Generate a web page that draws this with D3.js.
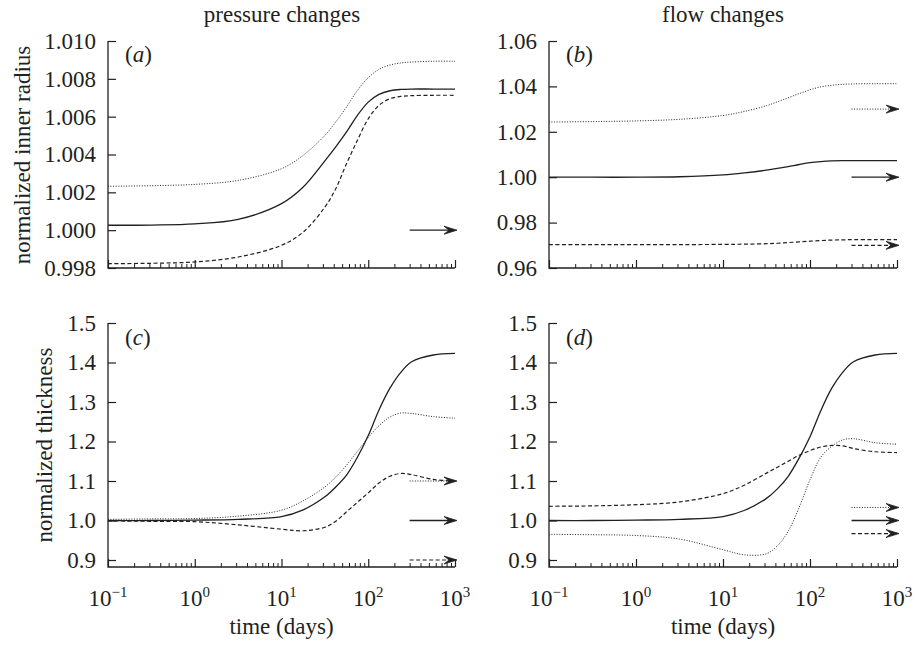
<!DOCTYPE html>
<html>
<head>
<meta charset="utf-8">
<script src="https://cdn.jsdelivr.net/npm/d3@7"></script>
<style>
  body { margin: 0; background: #fff; }
  text { font-family: "Liberation Serif", "Times New Roman", serif; fill: #231f20; }
</style>
</head>
<body>
<svg id="main" width="917" height="647"></svg>
<script>
// time points (days)
const days = [0.1, 0.316, 1, 3.16, 10, 17.8, 31.6, 42.2, 56.2, 75, 100, 133, 178, 237, 316, 562, 1000];

// (a) pressure changes, inner radius
const aSolid  = [1.00026, 1.00027, 1.00033, 1.00057, 1.0014, 1.00228, 1.00366, 1.0044, 1.00519, 1.00607, 1.00677, 1.00718, 1.00737, 1.00744, 1.00746, 1.00746, 1.00746];
const aDotted = [1.00232, 1.00235, 1.00242, 1.00263, 1.00325, 1.00396, 1.00501, 1.00572, 1.00651, 1.00739, 1.00806, 1.0085, 1.00873, 1.00884, 1.00889, 1.00893, 1.00893];
const aDashed = [0.99823, 0.99825, 0.99832, 0.99858, 0.9992, 0.9999, 1.00122, 1.00219, 1.00352, 1.00475, 1.00589, 1.0066, 1.00695, 1.00707, 1.00711, 1.00713, 1.00713];

// (b) flow changes, inner radius
const bSolid  = [1.0000, 1.0000, 1.0000, 1.0002, 1.0010, 1.0019, 1.0031, 1.0039, 1.0047, 1.0056, 1.0064, 1.0069, 1.0072, 1.0073, 1.0073, 1.0073, 1.0073];
const bDotted = [1.0243, 1.0245, 1.0248, 1.0255, 1.0272, 1.0290, 1.0315, 1.0332, 1.0350, 1.0368, 1.0385, 1.0398, 1.0405, 1.0409, 1.0411, 1.0412, 1.0412];
const bDashed = [0.9703, 0.9703, 0.9703, 0.9703, 0.9704, 0.9705, 0.9707, 0.9709, 0.9712, 0.9715, 0.9718, 0.9721, 0.9723, 0.9724, 0.9725, 0.9725, 0.9725];

// (c) pressure changes, thickness
const cSolid  = [1.000, 1.000, 1.001, 1.003, 1.010, 1.027, 1.060, 1.085, 1.115, 1.160, 1.215, 1.280, 1.335, 1.375, 1.402, 1.419, 1.423];
const cDotted = [1.003, 1.004, 1.005, 1.011, 1.026, 1.050, 1.085, 1.110, 1.140, 1.175, 1.210, 1.240, 1.262, 1.272, 1.271, 1.263, 1.259];
const cDashed = [0.999, 0.998, 0.997, 0.989, 0.978, 0.974, 0.983, 0.998, 1.022, 1.046, 1.070, 1.095, 1.112, 1.119, 1.116, 1.104, 1.100];

// (d) flow changes, thickness
const dSolid  = [1.000, 1.000, 1.001, 1.003, 1.010, 1.026, 1.056, 1.080, 1.112, 1.158, 1.212, 1.278, 1.335, 1.375, 1.402, 1.419, 1.423];
const dDotted = [0.965, 0.964, 0.962, 0.953, 0.926, 0.913, 0.916, 0.936, 0.973, 1.033, 1.103, 1.160, 1.188, 1.204, 1.207, 1.197, 1.193];
const dDashed = [1.036, 1.037, 1.040, 1.047, 1.068, 1.090, 1.120, 1.135, 1.150, 1.165, 1.177, 1.186, 1.190, 1.189, 1.182, 1.174, 1.172];

// target arrows (level, style)
const aArrows = [{ v: 1.0, s: "solid" }];
const bArrows = [{ v: 1.03, s: "dotted" }, { v: 1.0, s: "solid" }, { v: 0.97, s: "dashed" }];
const cArrows = [{ v: 1.1, s: "dotted" }, { v: 1.0, s: "solid" }, { v: 0.9, s: "dashed" }];
const dArrows = [{ v: 1.033, s: "dotted" }, { v: 1.0, s: "solid" }, { v: 0.967, s: "dashed" }];

// ticks
const radiusTicksA = [0.998, 1.000, 1.002, 1.004, 1.006, 1.008, 1.010];
const radiusTicksB = [0.96, 0.98, 1.00, 1.02, 1.04, 1.06];
const thickTicks = [0.9, 1.0, 1.1, 1.2, 1.3, 1.4, 1.5];
const decades = [0.1, 1, 10, 100, 1000];
const decadeExp = ["\u22121", "0", "1", "2", "3"];
const columnTitles = ["pressure changes", "flow changes"];
const rowLabels = ["normalized inner radius", "normalized thickness"];

const styles = {
  solid:  { dash: null, w: 1.3 },
  dotted: { dash: "1,1.6", w: 1.0 },
  dashed: { dash: "4,2.5", w: 1.2 }
};

const svg = d3.select("#main");
const FS = 23;

const panels = [
  { id: "a", left: 108, right: 455, top: 41, base: 268, dom: [0.998, 1.010], ticks: radiusTicksA, fmt: d3.format(".3f"),
    series: [[aSolid, "solid"], [aDotted, "dotted"], [aDashed, "dashed"]], arrows: aArrows, labelY: 62 },
  { id: "b", left: 549, right: 897, top: 41, base: 268, dom: [0.96, 1.06], ticks: radiusTicksB, fmt: d3.format(".2f"),
    series: [[bSolid, "solid"], [bDotted, "dotted"], [bDashed, "dashed"]], arrows: bArrows, labelY: 62 },
  { id: "c", left: 108, right: 455, top: 323, base: 560, axisY: 567, dom: [0.9, 1.5], ticks: thickTicks, fmt: d3.format(".1f"),
    series: [[cSolid, "solid"], [cDotted, "dotted"], [cDashed, "dashed"]], arrows: cArrows, labelY: 345, xLabels: true },
  { id: "d", left: 549, right: 897, top: 323, base: 560, axisY: 567, dom: [0.9, 1.5], ticks: thickTicks, fmt: d3.format(".1f"),
    series: [[dSolid, "solid"], [dDotted, "dotted"], [dDashed, "dashed"]], arrows: dArrows, labelY: 345, xLabels: true }
];

const minorTicks = [];
decades.slice(0, -1).forEach(d => { for (let k = 2; k < 10; k++) minorTicks.push(d * k); });

panels.forEach(p => {
  const axisY = p.axisY || p.base;
  const x = d3.scaleLog().domain([0.1, 1000]).range([p.left, p.right]);
  const y = d3.scaleLinear().domain(p.dom).range([p.base, p.top]);
  const g = svg.append("g");

  // y axis (ticks inward)
  g.append("g")
    .attr("transform", `translate(${p.left},0)`)
    .call(d3.axisLeft(y).tickValues(p.ticks).tickFormat(p.fmt).tickSize(-8).tickPadding(12))
    .call(a => a.select(".domain").remove())
    .call(a => a.selectAll(".tick line").attr("stroke", "#231f20").attr("stroke-width", 1.2))
    .call(a => a.selectAll(".tick text").attr("font-size", FS).attr("font-family", "Liberation Serif").attr("fill", "#231f20"));

  // x axis major + minor ticks (inward)
  g.append("g")
    .attr("transform", `translate(0,${axisY})`)
    .call(d3.axisBottom(x).tickValues(decades).tickFormat("").tickSize(-8))
    .call(a => a.select(".domain").remove())
    .call(a => a.selectAll(".tick line").attr("stroke", "#231f20").attr("stroke-width", 1.2));
  g.append("g")
    .attr("transform", `translate(0,${axisY})`)
    .call(d3.axisBottom(x).tickValues(minorTicks).tickFormat("").tickSize(-4))
    .call(a => a.select(".domain").remove())
    .call(a => a.selectAll(".tick line").attr("stroke", "#231f20").attr("stroke-width", 1));

  // axis lines
  g.append("path")
    .attr("d", `M${p.left},${p.top}V${axisY}H${p.right}`)
    .attr("fill", "none").attr("stroke", "#231f20").attr("stroke-width", 1.3);

  if (p.xLabels) {
    decades.forEach((d, i) => {
      const t = g.append("text").attr("x", x(d)).attr("y", 606).attr("text-anchor", "middle").attr("font-size", FS);
      t.append("tspan").text("10");
      t.append("tspan").attr("font-size", 15).attr("dy", -9).text(decadeExp[i]);
    });
    g.append("text").attr("x", (p.left + p.right) / 2).attr("y", 634).attr("text-anchor", "middle")
      .attr("font-size", FS).text("time (days)");
  }

  // panel letter
  const lab = g.append("text").attr("x", p.left + 17).attr("y", p.labelY).attr("font-size", FS);
  lab.append("tspan").text("(");
  lab.append("tspan").attr("font-style", "italic").text(p.id);
  lab.append("tspan").text(")");

  // curves
  const line = d3.line().x(d => x(d[0])).y(d => y(d[1])).curve(d3.curveCatmullRom.alpha(0.5));
  p.series.forEach(([vals, s]) => {
    g.append("path")
      .attr("d", line(days.map((t, i) => [t, vals[i]])))
      .attr("fill", "none").attr("stroke", "#231f20")
      .attr("stroke-width", styles[s].w)
      .attr("stroke-dasharray", styles[s].dash);
  });

  // arrows
  p.arrows.forEach(a => {
    const yy = y(a.v);
    const x0 = x(300), x1 = x(1000) + 2;
    g.append("line").attr("x1", x0).attr("x2", x1 - 3).attr("y1", yy).attr("y2", yy)
      .attr("stroke", "#231f20").attr("stroke-width", styles[a.s].w)
      .attr("stroke-dasharray", styles[a.s].dash);
    g.append("path")
      .attr("d", `M${x1 - 13},${yy - 4}L${x1},${yy}L${x1 - 13},${yy + 4}L${x1 - 8},${yy}Z`)
      .attr("fill", "#231f20").attr("stroke", "#231f20").attr("stroke-width", 0.8).attr("stroke-linejoin", "miter");
  });
});

// column titles
svg.append("text").attr("x", 282).attr("y", 22).attr("text-anchor", "middle").attr("font-size", FS).text(columnTitles[0]);
svg.append("text").attr("x", 723).attr("y", 22).attr("text-anchor", "middle").attr("font-size", FS).text(columnTitles[1]);

// row labels
svg.append("text").attr("transform", "translate(30,155) rotate(-90)").attr("text-anchor", "middle")
  .attr("font-size", FS).text(rowLabels[0]);
svg.append("text").attr("transform", "translate(52,445) rotate(-90)").attr("text-anchor", "middle")
  .attr("font-size", FS).text(rowLabels[1]);
</script>
</body>
</html>
